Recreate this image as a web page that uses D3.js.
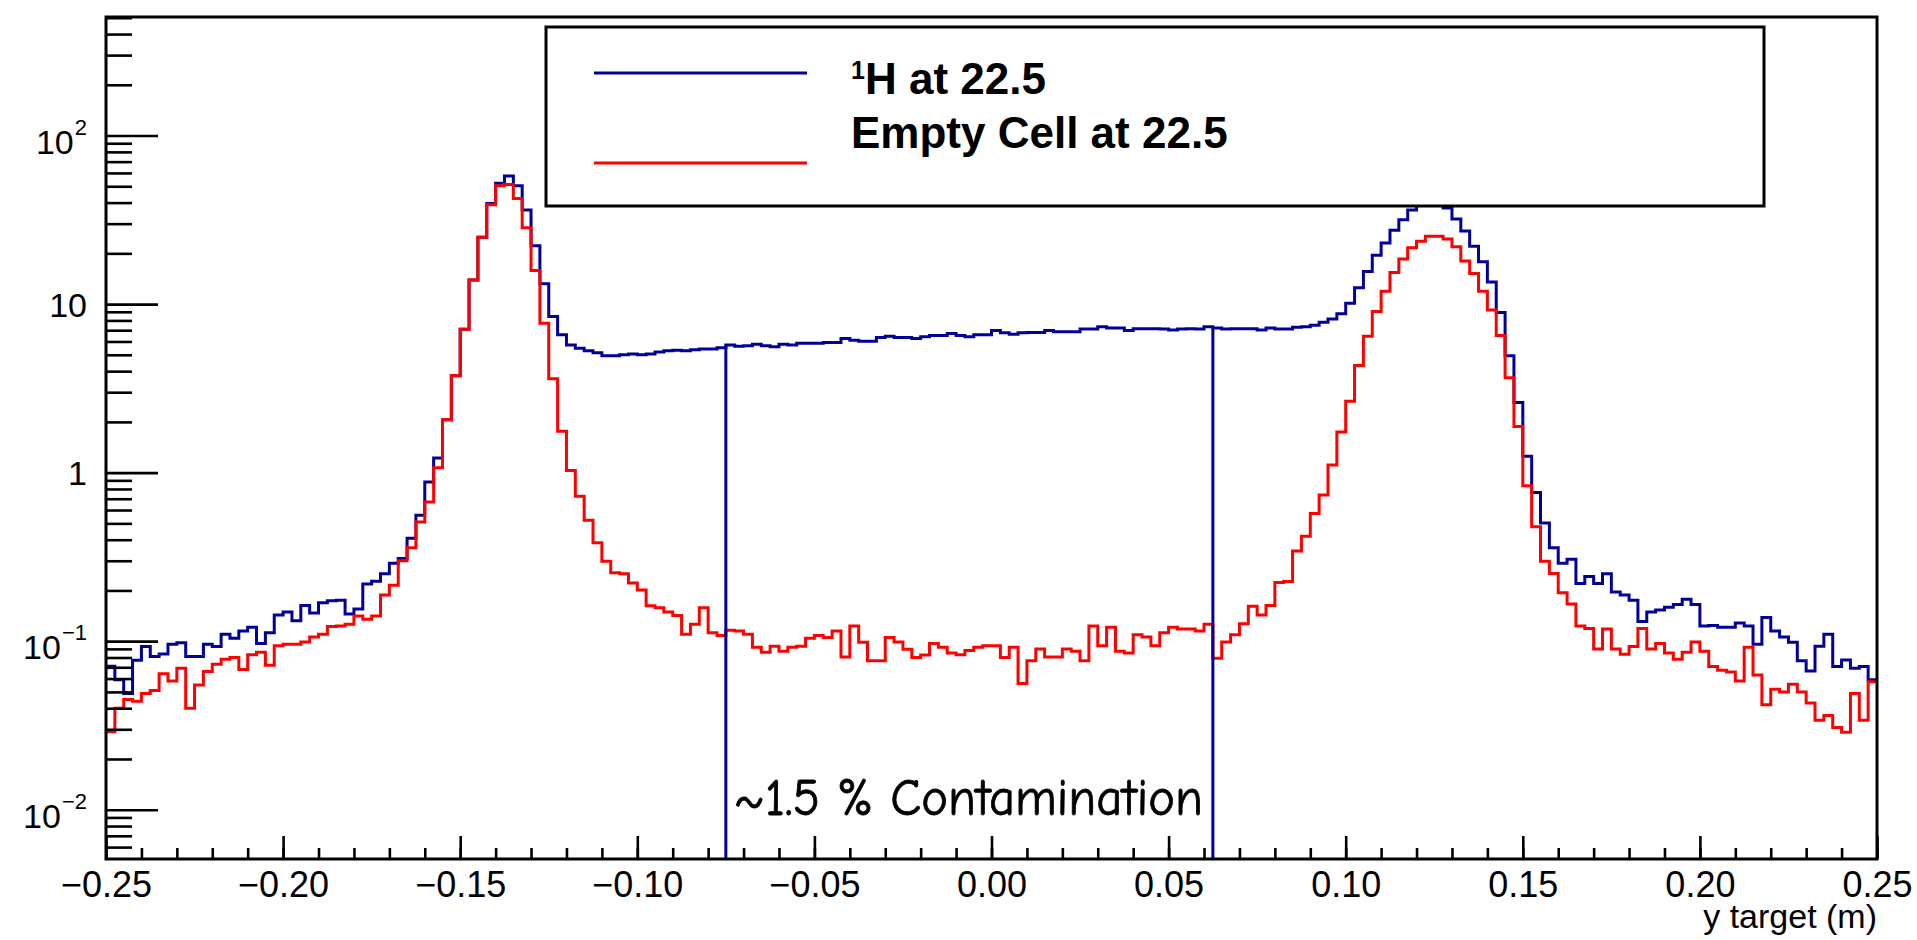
<!DOCTYPE html>
<html>
<head>
<meta charset="utf-8">
<script src="https://cdn.jsdelivr.net/npm/d3@7"></script>
<style>
  body { margin: 0; background: #fff; }
  svg { display: block; }
</style>
</head>
<body>
<div id="chart"></div>
<script>
// y target histograms, 200 bins from -0.25 to 0.25 m
const binRange = [-0.25, 0.25];

const hydrogen = [
  0.071, 0.059, 0.049, 0.077, 0.093, 0.081, 0.084, 0.096, 0.098, 0.081,
  0.081, 0.096, 0.093, 0.110, 0.104, 0.115, 0.121, 0.097, 0.112, 0.143,
  0.149, 0.132, 0.163, 0.147, 0.169, 0.174, 0.175, 0.145, 0.155, 0.218,
  0.227, 0.251, 0.290, 0.309, 0.408, 0.558, 0.879, 1.22, 2.06, 3.76,
  7.1, 13.9, 24.9, 39.5, 52.1, 57.5, 50.4, 36.1, 22.2, 13.2,
  8.45, 6.57, 5.71, 5.47, 5.28, 5.14, 4.93, 4.93, 5.01, 5.05,
  5.01, 5.05, 5.20, 5.28, 5.33, 5.28, 5.35, 5.42, 5.42, 5.51,
  5.71, 5.63, 5.66, 5.77, 5.66, 5.58, 5.77, 5.71, 5.86, 5.86,
  5.86, 5.92, 5.92, 6.24, 6.11, 6.01, 6.01, 6.34, 6.44, 6.34,
  6.34, 6.24, 6.41, 6.51, 6.51, 6.68, 6.51, 6.41, 6.58, 6.58,
  6.96, 6.75, 6.62, 6.75, 6.79, 6.79, 6.96, 6.86, 6.86, 6.86,
  7.11, 7.11, 7.33, 7.22, 7.22, 6.96, 7.15, 7.15, 7.15, 7.11,
  7.03, 7.11, 7.15, 7.11, 7.33, 7.22, 7.11, 7.15, 7.15, 7.15,
  7.03, 7.22, 7.11, 7.11, 7.29, 7.33, 7.48, 7.81, 8.15, 8.77,
  10.1, 12.5, 15.6, 19.5, 23.0, 27.4, 31.7, 36.1, 40.0, 42.0,
  41.0, 37.1, 32.0, 27.1, 22.0, 17.8, 13.5, 8.90, 4.93, 2.61,
  1.25, 0.763, 0.502, 0.358, 0.290, 0.306, 0.220, 0.242, 0.220, 0.251,
  0.196, 0.188, 0.175, 0.131, 0.149, 0.153, 0.159, 0.165, 0.177, 0.165,
  0.123, 0.124, 0.121, 0.121, 0.128, 0.123, 0.0958, 0.138, 0.115, 0.106,
  0.0984, 0.0766, 0.0665, 0.0934, 0.110, 0.0708, 0.0773, 0.069, 0.0708, 0.059
];

const emptyCell = [
  0.029, 0.040, 0.045, 0.044, 0.049, 0.051, 0.064, 0.058, 0.069, 0.040,
  0.055, 0.066, 0.073, 0.078, 0.080, 0.068, 0.083, 0.086, 0.072, 0.094,
  0.096, 0.096, 0.099, 0.106, 0.110, 0.122, 0.123, 0.126, 0.141, 0.135,
  0.141, 0.188, 0.215, 0.30, 0.358, 0.51, 0.67, 1.07, 2.06, 3.76,
  7.1, 13.9, 24.9, 38.8, 50.4, 51.2, 42.3, 28.4, 15.8, 7.69,
  3.61, 1.76, 1.03, 0.724, 0.521, 0.383, 0.298, 0.255, 0.251, 0.221,
  0.201, 0.162, 0.158, 0.149, 0.142, 0.110, 0.126, 0.158, 0.112, 0.108,
  0.116, 0.115, 0.110, 0.092, 0.0859, 0.0934, 0.087, 0.092, 0.0934, 0.104,
  0.108, 0.105, 0.115, 0.0806, 0.123, 0.0984, 0.0766, 0.0766, 0.105, 0.099,
  0.0896, 0.080, 0.0827, 0.097, 0.092, 0.085, 0.083, 0.088, 0.092, 0.094,
  0.094, 0.080, 0.092, 0.056, 0.0766, 0.090, 0.0806, 0.0806, 0.090, 0.087,
  0.0766, 0.123, 0.094, 0.121, 0.087, 0.085, 0.109, 0.106, 0.094, 0.112,
  0.121, 0.118, 0.118, 0.115, 0.126, 0.0793, 0.099, 0.109, 0.127, 0.161,
  0.143, 0.163, 0.223, 0.226, 0.343, 0.419, 0.573, 0.736, 1.11, 1.74,
  2.65, 4.32, 6.44, 9.03, 11.9, 15.4, 18.5, 21.6, 23.6, 25.3,
  25.3, 24.3, 21.9, 18.0, 15.2, 11.9, 9.23, 6.51, 3.66, 1.88,
  0.835, 0.477, 0.298, 0.252, 0.194, 0.166, 0.123, 0.119, 0.090, 0.118,
  0.090, 0.0836, 0.093, 0.119, 0.090, 0.097, 0.085, 0.078, 0.086, 0.099,
  0.087, 0.0708, 0.0671, 0.0656, 0.058, 0.092, 0.063, 0.042, 0.0518, 0.050,
  0.0556, 0.050, 0.043, 0.034, 0.0362, 0.0307, 0.0288, 0.049, 0.034, 0.0574
];

const xMajorTicks = [-0.25, -0.2, -0.15, -0.1, -0.05, 0, 0.05, 0.1, 0.15, 0.2, 0.25];
const yMajorTicks = [0.01, 0.1, 1, 10, 100];
const yDomain = [0.0051, 505];

// contamination window edges and the height the markers reach
const cutEdges = [-0.075, 0.0625];
const cutTops = [5.71, 7.33];

const legendLabels = ["H at 22.5", "Empty Cell at 22.5"];
const legendColors = ["#000099", "#ff0000"];

const W = 1917, H = 940;
const margin = { top: 17, right: 40, bottom: 81, left: 106 };
const width = W - margin.left - margin.right;
const height = H - margin.top - margin.bottom;
const font = "'Liberation Sans', Arial, Helvetica, sans-serif";

const svg = d3.select("#chart")
  .append("svg")
  .attr("width", W)
  .attr("height", H);

const g = svg.append("g")
  .attr("transform", `translate(${margin.left},${margin.top})`);

const x = d3.scaleLinear().domain(binRange).range([0, width]);
const y = d3.scaleLog().domain(yDomain).range([height, 0]);

g.append("defs")
  .append("clipPath")
  .attr("id", "frame-clip")
  .append("rect")
  .attr("width", width)
  .attr("height", height);

// histograms drawn as steps
const binWidth = (binRange[1] - binRange[0]) / hydrogen.length;
const stepLine = d3.line()
  .x((d) => x(d[0]))
  .y((d) => y(d[1]))
  .curve(d3.curveStepAfter);

const toSteps = (values) => {
  const pts = values.map((v, i) => [binRange[0] + i * binWidth, v]);
  pts.push([binRange[1], values[values.length - 1]]);
  return pts;
};

const plot = g.append("g").attr("clip-path", "url(#frame-clip)");

[hydrogen, emptyCell].forEach((series, i) => {
  plot.append("path")
    .datum(toSteps(series))
    .attr("fill", "none")
    .attr("stroke", legendColors[i])
    .attr("stroke-width", 3)
    .attr("d", stepLine);
});

plot.selectAll(".cut")
  .data(cutEdges)
  .join("line")
  .attr("class", "cut")
  .attr("x1", (d) => x(d))
  .attr("x2", (d) => x(d))
  .attr("y1", height)
  .attr("y2", (d, i) => y(cutTops[i]))
  .attr("stroke", "#000099")
  .attr("stroke-width", 3);

g.append("text")
  .attr("x", x(cutEdges[0]) + 8)
  .attr("y", 798)
  .attr("textLength", 469)
  .attr("lengthAdjust", "spacingAndGlyphs")
  .style("font-family", "'Comic Sans MS', 'Comic Neue', 'DejaVu Sans', sans-serif")
  .style("font-size", "52px")
  .attr("fill", "#000")
  .attr("stroke", "#000")
  .attr("stroke-width", 0.8)
  .text("~1.5 % Contamination");

// legend
const legend = svg.append("g");
legend.append("rect")
  .attr("x", 546)
  .attr("y", 27)
  .attr("width", 1218)
  .attr("height", 179)
  .attr("fill", "#fff")
  .attr("stroke", "#000")
  .attr("stroke-width", 3);

const lineYs = [73, 163];
const textYs = [94, 148];
legendLabels.forEach((label, i) => {
  legend.append("line")
    .attr("x1", 594)
    .attr("x2", 807)
    .attr("y1", lineYs[i])
    .attr("y2", lineYs[i])
    .attr("stroke", legendColors[i])
    .attr("stroke-width", 3);

  const t = legend.append("text")
    .attr("x", 851)
    .attr("y", textYs[i])
    .style("font-family", font)
    .style("font-weight", "bold")
    .style("font-size", "44px");
  if (i === 0) {
    t.append("tspan").attr("dy", -15).style("font-size", "25px").text("1");
    t.append("tspan").attr("dy", 15).text(label);
  } else {
    t.text(label);
  }
});

// axes
const xMinor = d3.range(-25, 26).map((i) => i / 100);
const yMinor = [];
for (let e = -3; e <= 2; e++) {
  for (let k = 2; k <= 9; k++) {
    const v = k * Math.pow(10, e);
    if (v > yDomain[0] && v < yDomain[1]) yMinor.push(v);
  }
}

const styleAxis = (sel) => {
  sel.select(".domain").remove();
  sel.selectAll(".tick line").attr("stroke", "#000").attr("stroke-width", 2.6);
};

g.append("g")
  .attr("transform", `translate(0,${height})`)
  .call(d3.axisBottom(x).tickValues(xMinor).tickSize(-11).tickFormat(""))
  .call(styleAxis);

g.append("g")
  .attr("transform", `translate(0,${height})`)
  .call(d3.axisBottom(x).tickValues(xMajorTicks).tickSize(-23).tickPadding(12)
    .tickFormat(d3.format(".2f")))
  .call(styleAxis)
  .call((a) => a.selectAll("text")
    .attr("fill", "#000")
    .attr("dy", "0.71em")
    .style("font-family", font)
    .style("font-size", "36px"));

g.append("g")
  .call(d3.axisLeft(y).tickValues(yMinor).tickSize(-26).tickFormat(""))
  .call(styleAxis);

g.append("g")
  .call(d3.axisLeft(y).tickValues(yMajorTicks).tickSize(-52).tickFormat(""))
  .call(styleAxis);

// y labels: plain for 1 and 10, 10^n with a raised exponent otherwise
const labelRight = -19;
const yLabels = g.append("g");
yMajorTicks.forEach((d) => {
  const e = Math.round(Math.log10(d));
  if (e === 0 || e === 1) {
    yLabels.append("text")
      .attr("x", labelRight)
      .attr("y", y(d) + 12.5)
      .attr("text-anchor", "end")
      .style("font-family", font)
      .style("font-size", "34px")
      .text(e === 0 ? "1" : "10");
    return;
  }
  const sup = yLabels.append("text")
    .attr("x", labelRight)
    .attr("y", y(d) - 1)
    .attr("text-anchor", "end")
    .style("font-family", font)
    .style("font-size", "22px")
    .text(e < 0 ? "\u2212" + -e : String(e));
  const supW = sup.node().getComputedTextLength();
  yLabels.append("text")
    .attr("x", labelRight - supW - 1)
    .attr("y", y(d) + 18)
    .attr("text-anchor", "end")
    .style("font-family", font)
    .style("font-size", "34px")
    .text("10");
});

g.append("text")
  .attr("x", width)
  .attr("y", height + 69)
  .attr("text-anchor", "end")
  .style("font-family", font)
  .style("font-size", "34px")
  .text("y target (m)");

// frame
g.append("rect")
  .attr("width", width)
  .attr("height", height)
  .attr("fill", "none")
  .attr("stroke", "#000")
  .attr("stroke-width", 3);
</script>
</body>
</html>
